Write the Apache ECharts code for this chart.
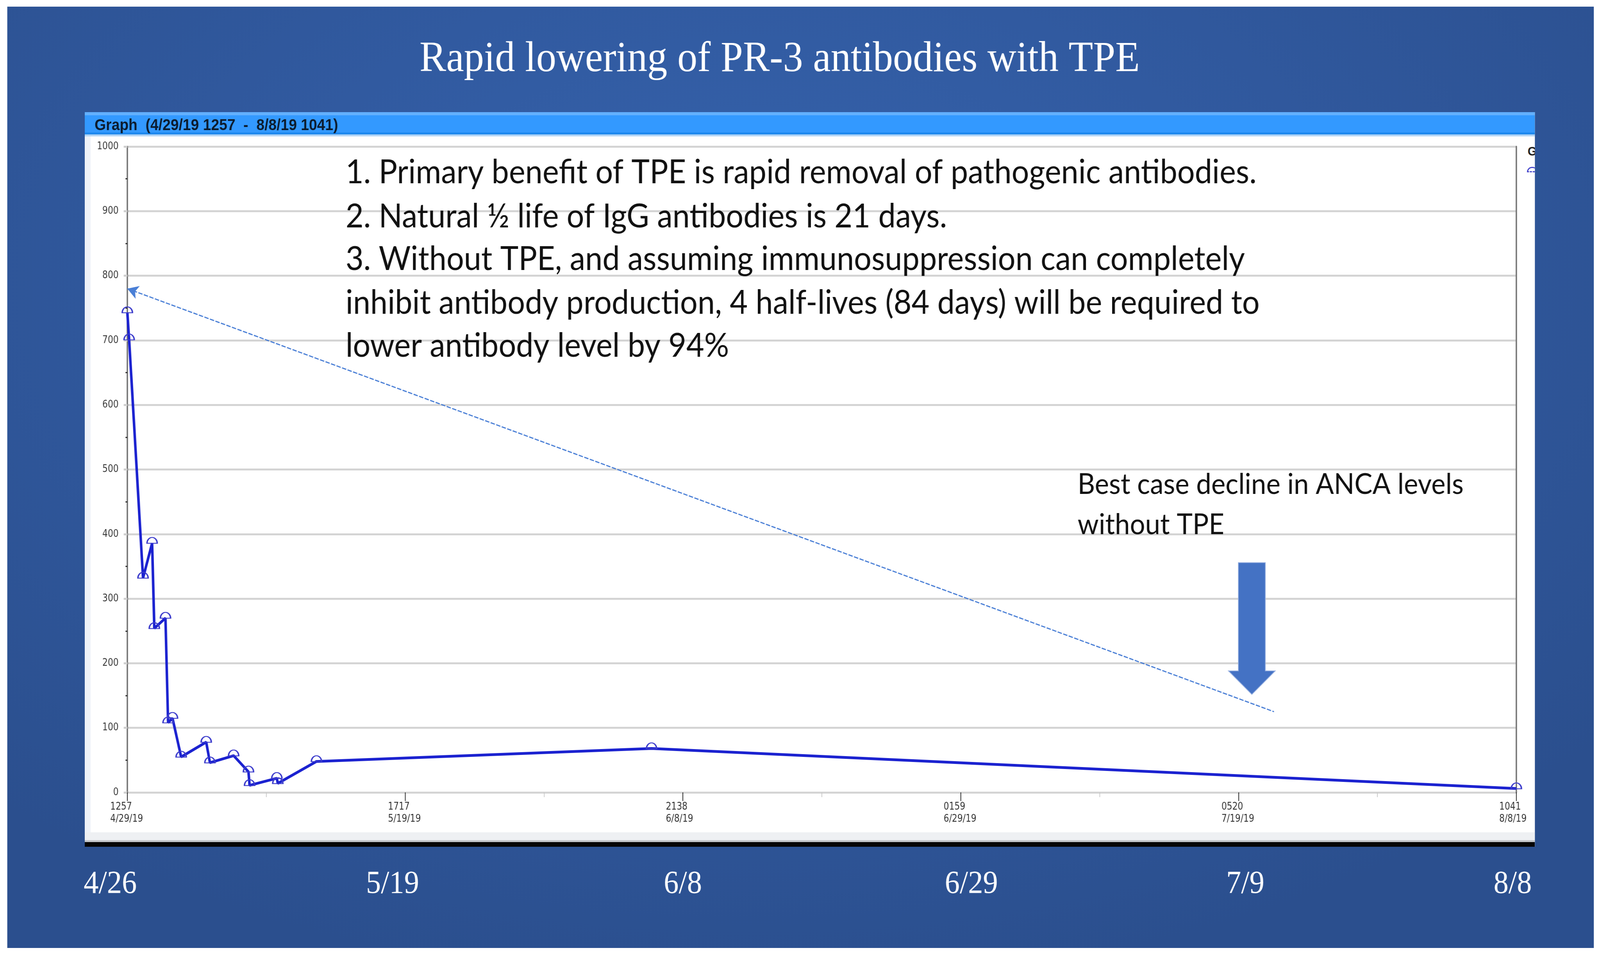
<!DOCTYPE html>
<html>
<head>
<meta charset="utf-8">
<script src="https://cdn.jsdelivr.net/npm/echarts@6/dist/echarts.min.js"></script>
<style>
  html, body { margin: 0; padding: 0; background: #ffffff; overflow: hidden; }
  #stage { position: absolute; left: 0; top: 0; width: 4398px; height: 2444px; overflow: hidden; background: #ffffff; transform-origin: 0 0; }
  #slide { position: absolute; left: 20px; top: 17px; width: 4361px; height: 2409px;
    background: radial-gradient(ellipse 70% 75% at 47% 30%, #3663ad 0%, #315aa0 45%, #2b4f8e 100%); }
  #panel { position: absolute; left: 233px; top: 287px; width: 3986px; height: 1880px; overflow: hidden; background: #ffffff; }
  #hdr { position: absolute; left: 0; top: 0; width: 100%; height: 62px;
    background: linear-gradient(to bottom, #63b0ff 0px, #63b0ff 8px, #3399ff 8px, #3399ff 52px, #1d88ee 52px, #1d88ee 57px, #b3d5f6 57px, #b3d5f6 62px); }
  #leftStrip { position: absolute; left: 0; top: 62px; width: 16px; height: 1781px; background: #eef2f8; }
  #lightStrip { position: absolute; left: 0; top: 1843px; width: 100%; height: 20px; background: #eef0f3; }
  #grayLine { position: absolute; left: 0; top: 1863px; width: 100%; height: 5px; background: #c4c7cb; }
  #blackBand { position: absolute; left: 0; top: 1868px; width: 100%; height: 12px; background: #060606; }
  #legG { position: absolute; left: 3966px; top: 82px; font: bold 32px "Liberation Sans", Arial, sans-serif; color: #222; }
  #legDome { position: absolute; left: 3964px; top: 140px; width: 30px; height: 14px; border: 3px solid #4a4acc; border-bottom: 3px dashed #4a4acc; border-radius: 16px 16px 0 0; box-sizing: border-box; }
  #chart { position: absolute; left: 0; top: 0; width: 4398px; height: 2444px; }
</style>
</head>
<body>
<div id="stage">
  <div id="slide"></div>
  <div id="panel">
    <div id="hdr"></div>
    <div id="leftStrip"></div>
    <div id="lightStrip"></div>
    <div id="grayLine"></div>
    <div id="blackBand"></div>
    <div id="legG">G</div>
    <div id="legDome"></div>
  </div>
  <div id="chart"></div>
</div>
<script>
// ---- data (x = days since 4/29/19 12:57) ----
const sampleDays = [0, 0.13, 1.14, 1.80, 1.96, 2.77, 2.96, 3.28, 3.91, 5.73, 6.00, 7.72, 8.80, 8.88, 10.86, 10.93, 13.74, 38.08, 100.906];
const pr3Values  = [743, 701, 332, 386, 254, 270, 108, 115, 55, 78, 46, 57, 32, 11, 22, 14, 48, 68, 6];

const xTickInterval = 20.1812;          // days between labelled ticks
const xMax = 100.906;                   // 8/8/19 10:41
const xTickTimes = ['1257', '1717', '2138', '0159', '0520', '1041'];
const xTickDates = ['4/29/19', '5/19/19', '6/8/19', '6/29/19', '7/19/19', '8/8/19'];

const yMin = 0, yMax = 1000, yInterval = 100;

// hand-drawn "best case without TPE" line (start, end) in data units
const bestCaseStart = [0, 780];
const bestCaseEnd = [83.3, 125];

const titleText = 'Rapid lowering of PR-3 antibodies with TPE';
const headerText = 'Graph  (4/29/19 1257  -  8/8/19 1041)';
const noteLines = [
  '1. Primary benefit of TPE is rapid removal of pathogenic antibodies.',
  '2. Natural \u00BD life of IgG antibodies is 21 days.',
  '3. Without TPE, and assuming immunosuppression can completely',
  'inhibit antibody production, 4 half-lives (84 days) will be required to',
  'lower antibody level by 94%'
];
const bestCaseLines = ['Best case decline in ANCA levels', 'without TPE'];
const slideDateLabels = ['4/26', '5/19', '6/8', '6/29', '7/9', '8/8'];

// ---- layout / style ----
const W = 4398, H = 2444;
const axisFont = '"Liberation Sans Narrow", "DejaVu Sans Condensed", "Liberation Sans", Arial, sans-serif';
const noteFont = 'Lato, "Open Sans", sans-serif';
const slideDateX = [303, 1079, 1877, 2670, 3423, 4158];
const noteY = [442, 555, 664, 776, 886];

// fit the 4398x2444 design into the actual viewport
(function fit() {
  const vw = window.innerWidth || W, vh = window.innerHeight || H;
  document.getElementById('stage').style.transform = 'scale(' + (vw / W) + ',' + (vh / H) + ')';
})();

const chart = echarts.init(document.getElementById('chart'), null, { renderer: 'canvas', width: W, height: H });

const graphics = [];
graphics.push({ type: 'text', z: 100, x: 2143, y: 153,
  style: { text: titleText, fill: '#ffffff', font: '110px "Liberation Serif", "Times New Roman", serif', textAlign: 'center', textVerticalAlign: 'middle' } });
graphics.push({ type: 'text', z: 100, x: 260, y: 322,
  style: { text: headerText, fill: '#0c1c2e', font: 'bold 40px "Liberation Sans", Arial, sans-serif', textAlign: 'left', textVerticalAlign: 'middle' } });
noteLines.forEach(function (t, i) {
  graphics.push({ type: 'text', z: 100, x: 950, y: noteY[i],
    style: { text: t, fill: '#111111', font: '85px ' + noteFont, textAlign: 'left', textVerticalAlign: 'middle' } });
});
bestCaseLines.forEach(function (t, i) {
  graphics.push({ type: 'text', z: 100, x: 2962, y: [1240, 1343][i],
    style: { text: t, fill: '#111111', font: '74px ' + noteFont, textAlign: 'left', textVerticalAlign: 'middle' } });
});
slideDateLabels.forEach(function (t, i) {
  graphics.push({ type: 'text', z: 100, x: slideDateX[i], y: 2263,
    style: { text: t, fill: '#ffffff', font: '82px "Liberation Serif", "Times New Roman", serif', textAlign: 'center', textVerticalAlign: 'middle' } });
});
graphics.push({ type: 'polygon', z: 90,
  shape: { points: [[3404, 1440], [3478, 1440], [3478, 1717], [3505, 1717], [3441, 1777], [3377, 1717], [3404, 1717]] },
  style: { fill: '#4472c4', stroke: '#8ea9dd', lineWidth: 2 } });

const option = {
  backgroundColor: 'transparent',
  animation: false,
  grid: { left: 350, right: 230, top: 375, bottom: 416, containLabel: false },
  xAxis: {
    type: 'value', min: 0, max: xMax, interval: xTickInterval,
    axisLine: { show: false },
    axisTick: { show: true, length: 22, lineStyle: { color: '#222222', width: 2 } },
    minorTick: { show: true, splitNumber: 2, length: 12, lineStyle: { color: '#c8c8c8', width: 2 } },
    splitLine: { show: false },
    axisLabel: {
      show: true, margin: 22, showMinLabel: true, showMaxLabel: true, hideOverlap: false,
      formatter: function (v) {
        const i = Math.round(v / xTickInterval);
        return '{a|' + (xTickTimes[i] || '') + '}\n{a|' + (xTickDates[i] || '') + '}';
      },
      rich: { a: { width: 94, align: 'left', fontSize: 26, lineHeight: 31, color: '#333333', fontFamily: axisFont } }
    }
  },
  yAxis: [{
    type: 'value', min: yMin, max: yMax, interval: yInterval,
    axisLine: { show: true, lineStyle: { color: '#7a7a7a', width: 4 } },
    axisTick: { show: true, length: 10, lineStyle: { color: '#cfcfcf', width: 5 } },
    minorTick: { show: true, splitNumber: 2, length: 5, lineStyle: { color: '#333333', width: 3 } },
    splitLine: { show: true, lineStyle: { color: '#d4d4d4', width: 5 } },
    axisLabel: { show: true, margin: 24, fontSize: 26, color: '#3a3a3a', fontFamily: axisFont,
      formatter: function (v) { return String(v); } }
  }, {
    type: 'value', min: yMin, max: yMax, interval: yInterval, position: 'right',
    axisLine: { show: true, onZero: false, lineStyle: { color: '#7a7a7a', width: 4 } },
    axisTick: { show: false }, axisLabel: { show: false }, splitLine: { show: false }
  }],
  graphic: graphics,
  series: [{
    type: 'line',
    data: sampleDays.map(function (d, i) { return [d, pr3Values[i]]; }),
    lineStyle: { color: '#1b22d0', width: 7 },
    symbol: 'path://M0,10 A10,10 0 0 1 20,10 Z',
    symbolSize: [28, 15],
    symbolOffset: [0, -7],
    showSymbol: true,
    itemStyle: { color: 'rgba(255,255,255,0)', borderColor: '#3d3dcc', borderWidth: 3 },
    emphasis: { disabled: true },
    z: 5,
    markLine: {
      silent: true, animation: false,
      symbol: ['arrow', 'none'], symbolSize: [26, 30],
      label: { show: false },
      lineStyle: { color: '#4a7fd6', width: 3, type: [12, 4] },
      itemStyle: { color: '#4472c4' },
      data: [[{ coord: bestCaseStart }, { coord: bestCaseEnd }]]
    }
  }]
};
chart.setOption(option);
</script>
</body>
</html>
